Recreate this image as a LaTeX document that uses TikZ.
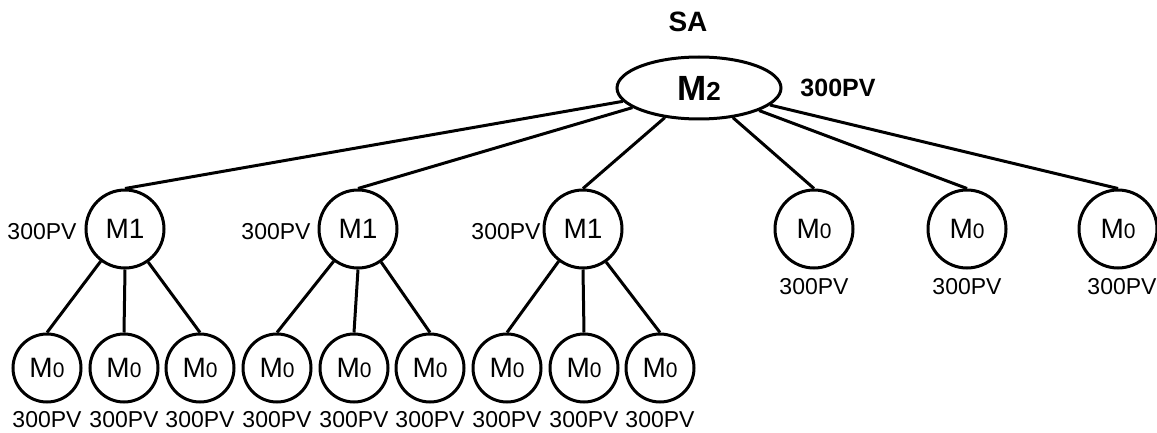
\documentclass[tikz,border=0pt]{standalone}
\usepackage{fontspec}
\setmainfont{Liberation Sans}
\usetikzlibrary{shapes.geometric}
\newcommand\smdig[1]{{\fontsize{21}{21}\selectfont #1}}
\tikzset{
  mnode/.style={circle, draw, line width=3pt, minimum size=78pt, inner sep=0pt, font=\fontsize{28}{28}\selectfont},
  leaf/.style={mnode, minimum size=68pt},
  lbl/.style={font=\fontsize{23}{23}\selectfont, inner sep=0pt},
  edge/.style={line width=3pt}
}
\begin{document}
\begin{tikzpicture}[x=1pt,y=-1pt]
\useasboundingbox (0,0) rectangle (1157,433);
% root
\node[font=\bfseries\fontsize{28}{28}\selectfont, inner sep=0pt] (sa) at (688,22) {SA};
\node[ellipse, draw, line width=3pt, minimum width=164pt, minimum height=62pt, inner sep=0pt,
      font=\bfseries\fontsize{35}{35}\selectfont] (root) at (699,88) {M{\fontsize{26}{26}\selectfont 2}};
\node[font=\bfseries\fontsize{25}{25}\selectfont, inner sep=0pt] (rootlbl) at (838,88) {300PV};
% M1 nodes
\node[mnode] (a) at (125,229) {M1};
\node[mnode] (b) at (358,229) {M1};
\node[mnode] (c) at (583,229) {M1};
\node[lbl] (al) at (42,232) {300PV};
\node[lbl] (bl) at (276,232) {300PV};
\node[lbl] (cl) at (506,232) {300PV};
% top-level M0
\node[mnode] (d) at (814,229) {M\smdig{0}};
\node[mnode] (e) at (967,229) {M\smdig{0}};
\node[mnode] (f) at (1118,229) {M\smdig{0}};
\node[lbl] (dl) at (814,287) {300PV};
\node[lbl] (el) at (967,287) {300PV};
\node[lbl] (fl) at (1122,287) {300PV};
% leaves
\foreach \n/\x in {a1/47,a2/124,a3/200,b1/277,b2/354,b3/430,c1/507,c2/584,c3/660}{
  \node[leaf] (\n) at (\x,368) {M\smdig{0}};
  \node[lbl] (\n l) at (\x,420) {300PV};
}
% edges
\foreach \t in {a,b,c,d,e,f}{\draw[edge] (root) -- (\t.north);}
\foreach \p in {a,b,c}{
  \draw[edge] (\p.-127) -- (\p1.north);
  \draw[edge] (\p.south) -- (\p2.north);
  \draw[edge] (\p.-55) -- (\p3.north);
}
\end{tikzpicture}
\end{document}
